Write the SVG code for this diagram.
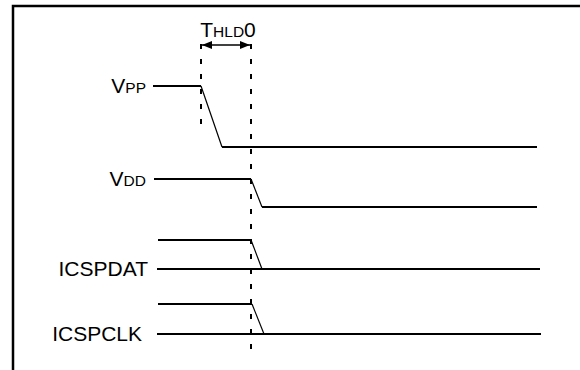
<svg xmlns="http://www.w3.org/2000/svg" width="580" height="370" viewBox="0 0 580 370">
<defs>
<style>
.frame{fill:none;stroke:#000;stroke-width:2.5}
.sig{fill:none;stroke:#000;stroke-width:2}
.edge{fill:none;stroke:#000;stroke-width:1.2}
.dot{fill:none;stroke:#000;stroke-width:2;stroke-dasharray:5 10}
.arr{fill:none;stroke:#000;stroke-width:1.5}
text{font-family:"Liberation Sans",Arial,sans-serif;font-size:21px;fill:#000}
.sc{font-size:15.5px}
</style>
<marker id="ah" viewBox="0 0 10 8" refX="10" refY="4" markerWidth="10" markerHeight="8" markerUnits="userSpaceOnUse" orient="auto-start-reverse">
<path d="M0,0 L10,4 L0,8 Z" fill="#000"/>
</marker>
</defs>
<rect width="580" height="370" fill="#fff"/>
<path class="frame" d="M13,370 V6 H580"/>
<g id="timing">
<line class="dot" x1="201" y1="44" x2="201" y2="128"/>
<line class="dot" x1="251" y1="44" x2="251" y2="352"/>
<line class="arr" x1="202" y1="45" x2="250" y2="45" marker-start="url(#ah)" marker-end="url(#ah)"/>
<text x="228" y="37" text-anchor="middle">T<tspan class="sc">HLD</tspan>0</text>
</g>
<g id="connectors">
<path class="sig" d="M153,86 H201"/>
<path class="edge" d="M201,86 L222,147"/>
<path class="sig" d="M222,147 H537"/>
<path class="sig" d="M154,179 H251"/>
<path class="edge" d="M251,179 L262,207"/>
<path class="sig" d="M262,207 H537"/>
<path class="sig" d="M158,240 H251"/>
<path class="edge" d="M251,240 L262,269"/>
<path class="sig" d="M157,269 H540"/>
<path class="sig" d="M158,304 H252"/>
<path class="edge" d="M252,304 L264,334"/>
<path class="sig" d="M157,334 H541"/>
</g>
<g id="vpp"><text x="146" y="93" text-anchor="end">V<tspan class="sc">PP</tspan></text></g>
<g id="vdd"><text x="146" y="186" text-anchor="end">V<tspan class="sc">DD</tspan></text></g>
<g id="icspdat"><text x="148" y="276" text-anchor="end">ICSPDAT</text></g>
<g id="icspclk"><text x="142" y="341" text-anchor="end">ICSPCLK</text></g>
</svg>
